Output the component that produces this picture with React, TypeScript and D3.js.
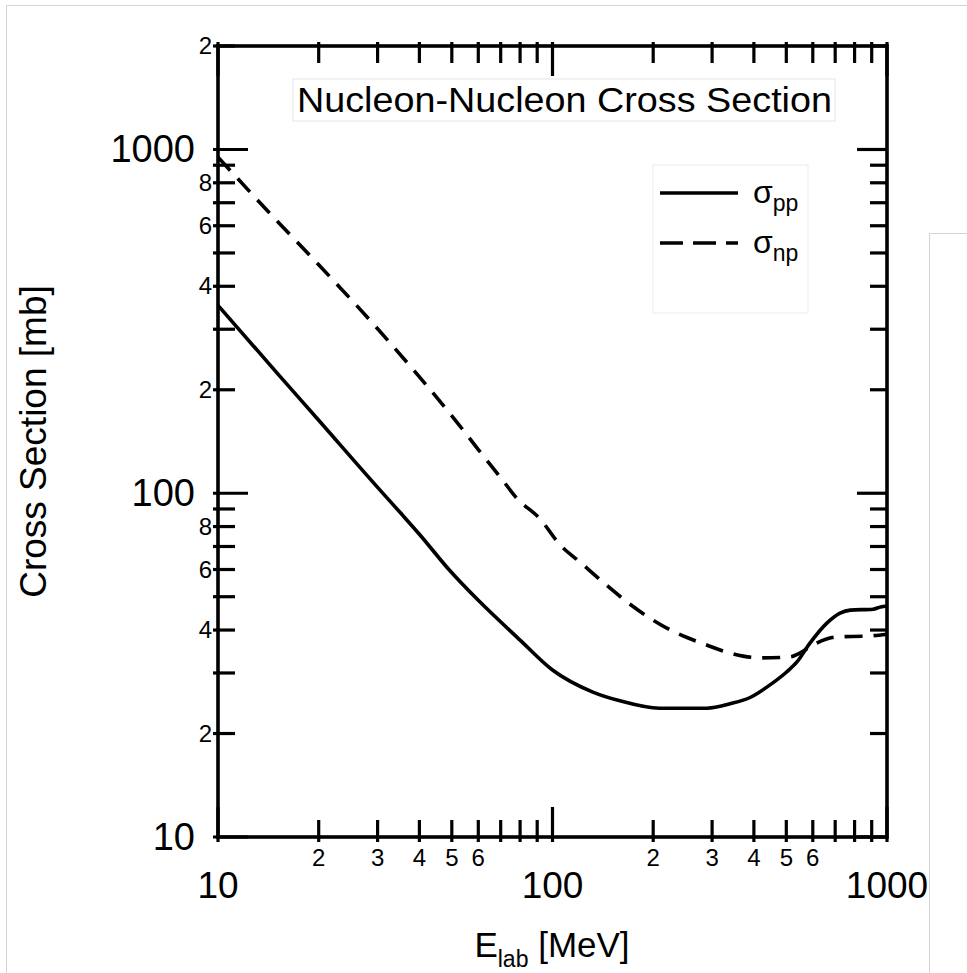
import { useEffect, useRef } from 'react';
import * as d3 from 'd3';

// sigma_pp and sigma_np (mb) vs lab energy (MeV)
const ppEnergy = [10, 15, 20, 30, 35, 40, 49, 60, 80, 100, 132, 159, 209, 290, 339, 391, 447, 501, 538, 589, 661, 724, 777, 908, 957, 1000];
const ppSigma = [352, 224, 163, 104, 88, 76, 60, 48.8, 37.4, 30.6, 26.4, 24.9, 23.7, 23.7, 24.4, 25.5, 27.7, 30.2, 32.3, 36.7, 41.9, 44.8, 45.7, 46, 46.7, 47];

const npEnergy = [10, 15, 20, 30, 40, 50, 60, 71, 78, 92, 105, 121, 142, 167, 195, 235, 282, 339, 417, 513, 550, 601, 708, 871, 1000];
const npSigma = [950, 620, 462, 301, 218, 168, 134, 109, 97, 84, 71, 63, 55, 48.3, 43.4, 39.2, 36.5, 34.3, 33.2, 33.4, 34.3, 36.2, 38.2, 38.4, 38.9];

const xMajorTicks = [10, 100, 1000];
const xMinorTicks = [20, 30, 40, 50, 60, 70, 80, 90, 200, 300, 400, 500, 600, 700, 800, 900];
const xMinorLabelDigits = [2, 3, 4, 5, 6];

const yMajorTicks = [10, 100, 1000];
const yMinorTicks = [20, 30, 40, 50, 60, 70, 80, 90, 200, 300, 400, 500, 600, 700, 800, 900, 2000];
const yMinorLabelDigits = [2, 4, 6, 8];

const chartTitle = 'Nucleon-Nucleon Cross Section';
const legendNames = ['pp', 'np'];

const WIDTH = 967;
const HEIGHT = 973;
const FONT = "'Liberation Sans', Arial, sans-serif";
const DASH = '18,11';

function App() {
  const ref = useRef<SVGSVGElement>(null);

  useEffect(() => {
    if (!ref.current) return;
    const svg = d3.select(ref.current);
    svg.selectAll('*').remove();

    const margin = { top: 46, bottom: 136, left: 218, right: 80 };
    const x = d3
      .scaleLog()
      .domain([10, 1000])
      .range([margin.left, WIDTH - margin.right]);
    const y = d3
      .scaleLog()
      .domain([10, 2000])
      .range([HEIGHT - margin.bottom, margin.top]);

    const [x0, x1] = x.range();
    const [y0, y1] = y.range(); // y0 bottom, y1 top

    // faint page borders
    const frame = svg.append('g').attr('stroke', '#d4d4d4').attr('stroke-width', 1).attr('fill', 'none');
    frame.append('path').attr('d', `M6.5,${HEIGHT} V5.5 H${WIDTH}`);
    frame.append('path').attr('d', `M929.5,${HEIGHT} V233.5 H${WIDTH}`);

    // curves
    const line = d3
      .line<[number, number]>()
      .x(d => x(d[0]))
      .y(d => y(d[1]))
      .curve(d3.curveMonotoneX);

    const pp = ppEnergy.map((e, i) => [e, ppSigma[i]] as [number, number]);
    const np = npEnergy.map((e, i) => [e, npSigma[i]] as [number, number]);

    svg
      .append('path')
      .attr('d', line(pp))
      .attr('fill', 'none')
      .attr('stroke', '#000')
      .attr('stroke-width', 3.6);

    svg
      .append('path')
      .attr('d', line(np))
      .attr('fill', 'none')
      .attr('stroke', '#000')
      .attr('stroke-width', 3.6)
      .attr('stroke-dasharray', DASH);

    // frame + ticks
    const axes = svg.append('g').attr('stroke', '#000').attr('stroke-width', 3.2);
    axes
      .append('rect')
      .attr('x', x0)
      .attr('y', y1)
      .attr('width', x1 - x0)
      .attr('height', y0 - y1)
      .attr('fill', 'none')
      .attr('stroke-width', 3.6);

    const tickLen = (major: boolean) => (major ? 30 : 17);

    // bottom + top
    const xTicks = [...xMajorTicks.map(v => ({ v, major: true })), ...xMinorTicks.map(v => ({ v, major: false }))];
    axes
      .append('g')
      .selectAll('line')
      .data(xTicks)
      .join('line')
      .attr('x1', d => x(d.v))
      .attr('x2', d => x(d.v))
      .attr('y1', y0 + 5)
      .attr('y2', d => y0 - tickLen(d.major));
    axes
      .append('g')
      .selectAll('line')
      .data(xTicks)
      .join('line')
      .attr('x1', d => x(d.v))
      .attr('x2', d => x(d.v))
      .attr('y1', y1 - 4)
      .attr('y2', d => y1 + tickLen(d.major));

    // left + right
    const yTicks = [...yMajorTicks.map(v => ({ v, major: true })), ...yMinorTicks.map(v => ({ v, major: false }))];
    axes
      .append('g')
      .selectAll('line')
      .data(yTicks)
      .join('line')
      .attr('y1', d => y(d.v))
      .attr('y2', d => y(d.v))
      .attr('x1', x0 - 5)
      .attr('x2', d => x0 + tickLen(d.major));
    axes
      .append('g')
      .selectAll('line')
      .data(yTicks)
      .join('line')
      .attr('y1', d => y(d.v))
      .attr('y2', d => y(d.v))
      .attr('x1', x1)
      .attr('x2', d => x1 - tickLen(d.major));

    const text = svg.append('g').attr('font-family', FONT).attr('fill', '#000');

    // x labels
    text
      .append('g')
      .attr('font-size', 37)
      .attr('text-anchor', 'middle')
      .selectAll('text')
      .data(xMajorTicks)
      .join('text')
      .attr('x', d => x(d))
      .attr('y', y0 + 61)
      .text(d => d);
    const xSmall = [10, 100].flatMap(dec => xMinorLabelDigits.map(k => ({ v: dec * k, k })));
    text
      .append('g')
      .attr('font-size', 24)
      .attr('text-anchor', 'middle')
      .selectAll('text')
      .data(xSmall)
      .join('text')
      .attr('x', d => x(d.v))
      .attr('y', y0 + 29)
      .text(d => d.k);

    // y labels
    text
      .append('g')
      .attr('font-size', 38)
      .attr('text-anchor', 'end')
      .selectAll('text')
      .data(yMajorTicks)
      .join('text')
      .attr('x', x0 - 23)
      .attr('y', d => y(d) + 13)
      .text(d => d);
    const ySmall = [
      ...[10, 100].flatMap(dec => yMinorLabelDigits.map(k => ({ v: dec * k, k }))),
      { v: 2000, k: 2 }
    ];
    text
      .append('g')
      .attr('font-size', 24)
      .attr('text-anchor', 'end')
      .selectAll('text')
      .data(ySmall)
      .join('text')
      .attr('x', x0 - 6)
      .attr('y', d => y(d.v) + 8)
      .text(d => d.k);

    // axis titles
    const xt = text
      .append('text')
      .attr('x', 552)
      .attr('y', 957)
      .attr('text-anchor', 'middle')
      .attr('font-size', 35);
    xt.append('tspan').text('E');
    xt.append('tspan').attr('font-size', 23).attr('dy', 10).text('lab');
    xt.append('tspan').attr('dy', -10).text(' [MeV]');

    text
      .append('text')
      .attr('transform', `translate(46, ${(y0 + y1) / 2}) rotate(-90)`)
      .attr('text-anchor', 'middle')
      .attr('font-size', 37)
      .text('Cross Section [mb]');

    // title box
    svg
      .append('rect')
      .attr('x', 293)
      .attr('y', 79)
      .attr('width', 542)
      .attr('height', 42)
      .attr('fill', '#fff')
      .attr('stroke', '#e6e6e6')
      .attr('stroke-width', 1);
    svg
      .append('text')
      .attr('x', 297)
      .attr('y', 112)
      .attr('font-family', FONT)
      .attr('font-size', 35)
      .attr('textLength', 535)
      .attr('lengthAdjust', 'spacingAndGlyphs')
      .text(chartTitle);

    // legend
    svg
      .append('rect')
      .attr('x', 653)
      .attr('y', 165)
      .attr('width', 155)
      .attr('height', 148)
      .attr('fill', '#fff')
      .attr('stroke', '#ececec')
      .attr('stroke-width', 1);
    const legend = svg
      .append('g')
      .selectAll('g')
      .data(legendNames)
      .join('g')
      .attr('transform', (_, i) => `translate(660, ${193 + i * 50})`);
    legend
      .append('line')
      .attr('x1', 0)
      .attr('x2', 78)
      .attr('stroke', '#000')
      .attr('stroke-width', 3.6)
      .attr('stroke-dasharray', (_, i) => (i === 1 ? '23,10' : null));
    const lt = legend
      .append('text')
      .attr('x', 93)
      .attr('y', 10)
      .attr('font-family', FONT)
      .attr('font-size', 32);
    lt.append('tspan').text('σ');
    lt.append('tspan')
      .attr('font-size', 23)
      .attr('dy', 8)
      .text(d => d);
  }, []);

  return (
    <svg
      ref={ref}
      width={WIDTH}
      height={HEIGHT}
      style={{ position: 'absolute', left: 0, top: 0, display: 'block', background: '#fff' }}
    />
  );
}

export default App;
